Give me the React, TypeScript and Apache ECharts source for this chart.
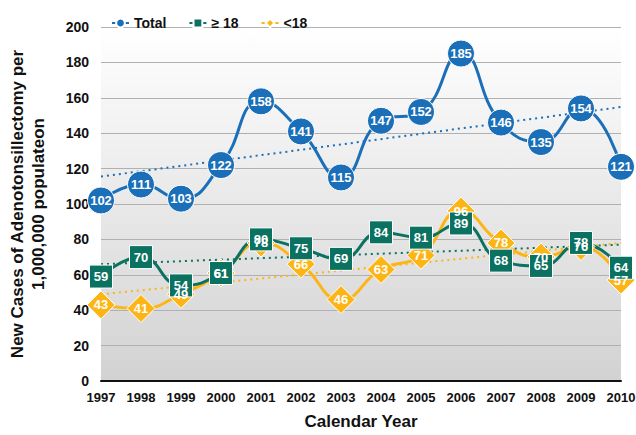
import React, { useEffect, useRef } from "react";
import * as echarts from "echarts";

const years = ["1997","1998","1999","2000","2001","2002","2003","2004","2005","2006","2007","2008","2009","2010"];
const total = [102,111,103,122,158,141,115,147,152,185,146,135,154,121];
const adults = [59,70,54,61,80,75,69,84,81,89,68,65,78,64];
const children = [43,41,49,61,78,66,46,63,71,96,78,70,76,57];
// trend line endpoints (1997, 2010)
const totalTrend = [115.5, 154.8];
const adultsTrend = [66, 77];
const childrenTrend = [49, 78];

const BLUE = "#1a6fb8";
const TEAL = "#0b7262";
const ORANGE = "#fdb515";
const FONT = "Liberation Sans";

function trendSeries(name: string, vals: number[], color: string) {
  return {
    name,
    type: "line",
    silent: true,
    symbol: "none",
    z: 1,
    lineStyle: { type: [2, 4], width: 2, color },
    data: [[years[0], vals[0]], [years[years.length - 1], vals[1]]],
  };
}

export default function App() {
  const ref = useRef<HTMLDivElement>(null);
  useEffect(() => {
    const chart = echarts.init(ref.current!, null, { renderer: "svg" });
    const label = {
      show: true,
      position: "inside" as const,
      color: "#fff",
      fontWeight: "bold" as const,
      fontSize: 13,
      fontFamily: FONT,
    };
    chart.setOption({
      animation: false,
      textStyle: { fontFamily: FONT },
      legend: {
        left: 106,
        top: 11,
        itemWidth: 17,
        itemHeight: 11,
        itemGap: 22,
        textStyle: { fontSize: 14, fontWeight: "bold", color: "#111", fontFamily: FONT },
        data: ["Total", "≥ 18", "<18"],
      },
      grid: {
        left: 101,
        right: 15,
        top: 27,
        bottom: 54,
        containLabel: false,
        outerBoundsMode: "none",
        show: true,
        borderWidth: 0,
        backgroundColor: new echarts.graphic.LinearGradient(0, 0, 0, 1, [
          { offset: 0, color: "#ffffff" },
          { offset: 1, color: "#d2d2d2" },
        ]),
      },
      xAxis: {
        type: "category",
        data: years,
        boundaryGap: false,
        name: "Calendar Year",
        nameLocation: "middle",
        nameGap: 32,
        nameTextStyle: { fontSize: 17, fontWeight: "bold", color: "#111", fontFamily: FONT },
        axisLine: { lineStyle: { color: "#111", width: 2 } },
        axisTick: { show: false },
        axisLabel: { interval: 0, fontSize: 13, fontWeight: "bold", color: "#111", margin: 10, fontFamily: FONT },
      },
      yAxis: {
        type: "value",
        min: 0,
        max: 200,
        interval: 20,
        name: "New Cases of Adenotonsillectomy per\n1,000,000 populateon",
        nameLocation: "middle",
        nameGap: 52,
        nameTextStyle: { fontSize: 17, fontWeight: "bold", color: "#111", lineHeight: 21, fontFamily: FONT },
        axisLine: { show: false },
        axisTick: { show: false },
        axisLabel: { fontSize: 14, fontWeight: "bold", color: "#111", margin: 12, fontFamily: FONT },
        splitLine: { lineStyle: { color: "#b0b0b0", width: 1 } },
      },
      series: [
        trendSeries("Total trend", totalTrend, BLUE),
        trendSeries("≥ 18 trend", adultsTrend, TEAL),
        trendSeries("<18 trend", childrenTrend, ORANGE),
        {
          name: "Total",
          type: "line",
          data: total,
          smooth: 0.5,
          showAllSymbol: true,
          symbol: "circle",
          symbolSize: 27,
          itemStyle: { color: BLUE, borderColor: "#fff", borderWidth: 1 },
          lineStyle: { color: BLUE, width: 3 },
          label,
        },
        {
          name: "<18",
          type: "line",
          data: children,
          smooth: 0.5,
          showAllSymbol: true,
          symbol: "diamond",
          symbolSize: 28,
          itemStyle: { color: ORANGE, borderColor: "#fff", borderWidth: 1 },
          lineStyle: { color: ORANGE, width: 3 },
          label,
        },
        {
          name: "≥ 18",
          type: "line",
          data: adults,
          smooth: 0.5,
          showAllSymbol: true,
          symbol: "rect",
          symbolSize: 23,
          itemStyle: { color: TEAL, borderColor: "#fff", borderWidth: 1 },
          lineStyle: { color: TEAL, width: 3 },
          label,
        },
      ],
    });
    return () => chart.dispose();
  }, []);
  return <div ref={ref} style={{ position: "absolute", left: 0, top: 0, width: 636, height: 435 }} />;
}
